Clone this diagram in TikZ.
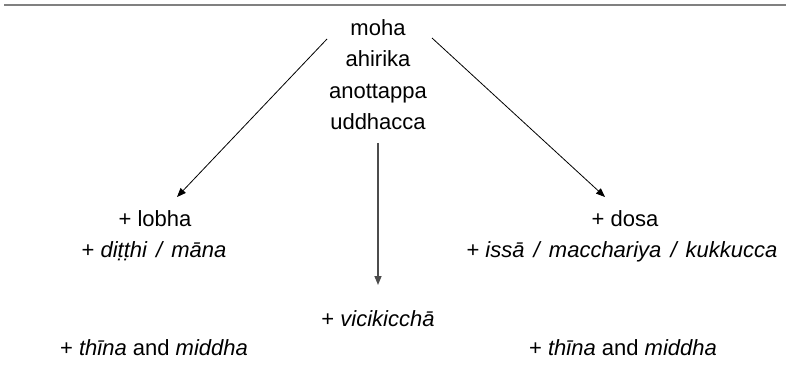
\documentclass[tikz,border=0pt]{standalone}
\usepackage{fontspec}
\setmainfont{Liberation Sans}
\usetikzlibrary{arrows.meta}
\newcommand{\slsep}{\hspace{3pt}/\hspace{3pt}}
\begin{document}
\begin{tikzpicture}[x=1pt,y=-1pt,
  txt/.style={font=\fontsize{22}{31}\selectfont, inner sep=0pt, anchor=base},
  arr/.style={-{Triangle[length=9pt,width=7pt]}, line width=0.8pt},
  rule/.style={draw=black!50, line width=2pt}]
\useasboundingbox (0,0) rectangle (786,366);
\coordinate (ra) at (4,5.5);
\coordinate (rb) at (786,5.5);
\draw[rule] (ra) -- (rb);
\node[txt] (t1) at (378,36) {moha};
\node[txt] (t2) at (378,67) {ahirika};
\node[txt] (t3) at (378,99) {anottappa};
\node[txt] (t4) at (378,130) {uddhacca};
\node[txt] (l1) at (155,226) {+ lobha};
\node[txt] (l2) at (154,257) {+ \textit{diṭṭhi \slsep{} māna}};
\node[txt] (r1) at (625,226) {+ dosa};
\node[txt] (r2) at (622,257) {+ \textit{issā \slsep{} macchariya \slsep{} kukkucca}};
\node[txt] (m1) at (378,326) {+ \textit{vicikicchā}};
\node[txt] (l3) at (154,355) {+ \textit{thīna} and \textit{middha}};
\node[txt] (r3) at (623,355) {+ \textit{thīna} and \textit{middha}};
\coordinate (ls) at (327,39);
\coordinate (le) at (177,197);
\coordinate (rs) at (432,38);
\coordinate (re) at (605,197);
\coordinate (ms) at (378,143);
\coordinate (me) at (378,285);
\draw[arr] (ls) -- (le);
\draw[arr] (rs) -- (re);
\draw[arr, draw=black!70, line width=1.5pt] (ms) -- (me);
\end{tikzpicture}
\end{document}
